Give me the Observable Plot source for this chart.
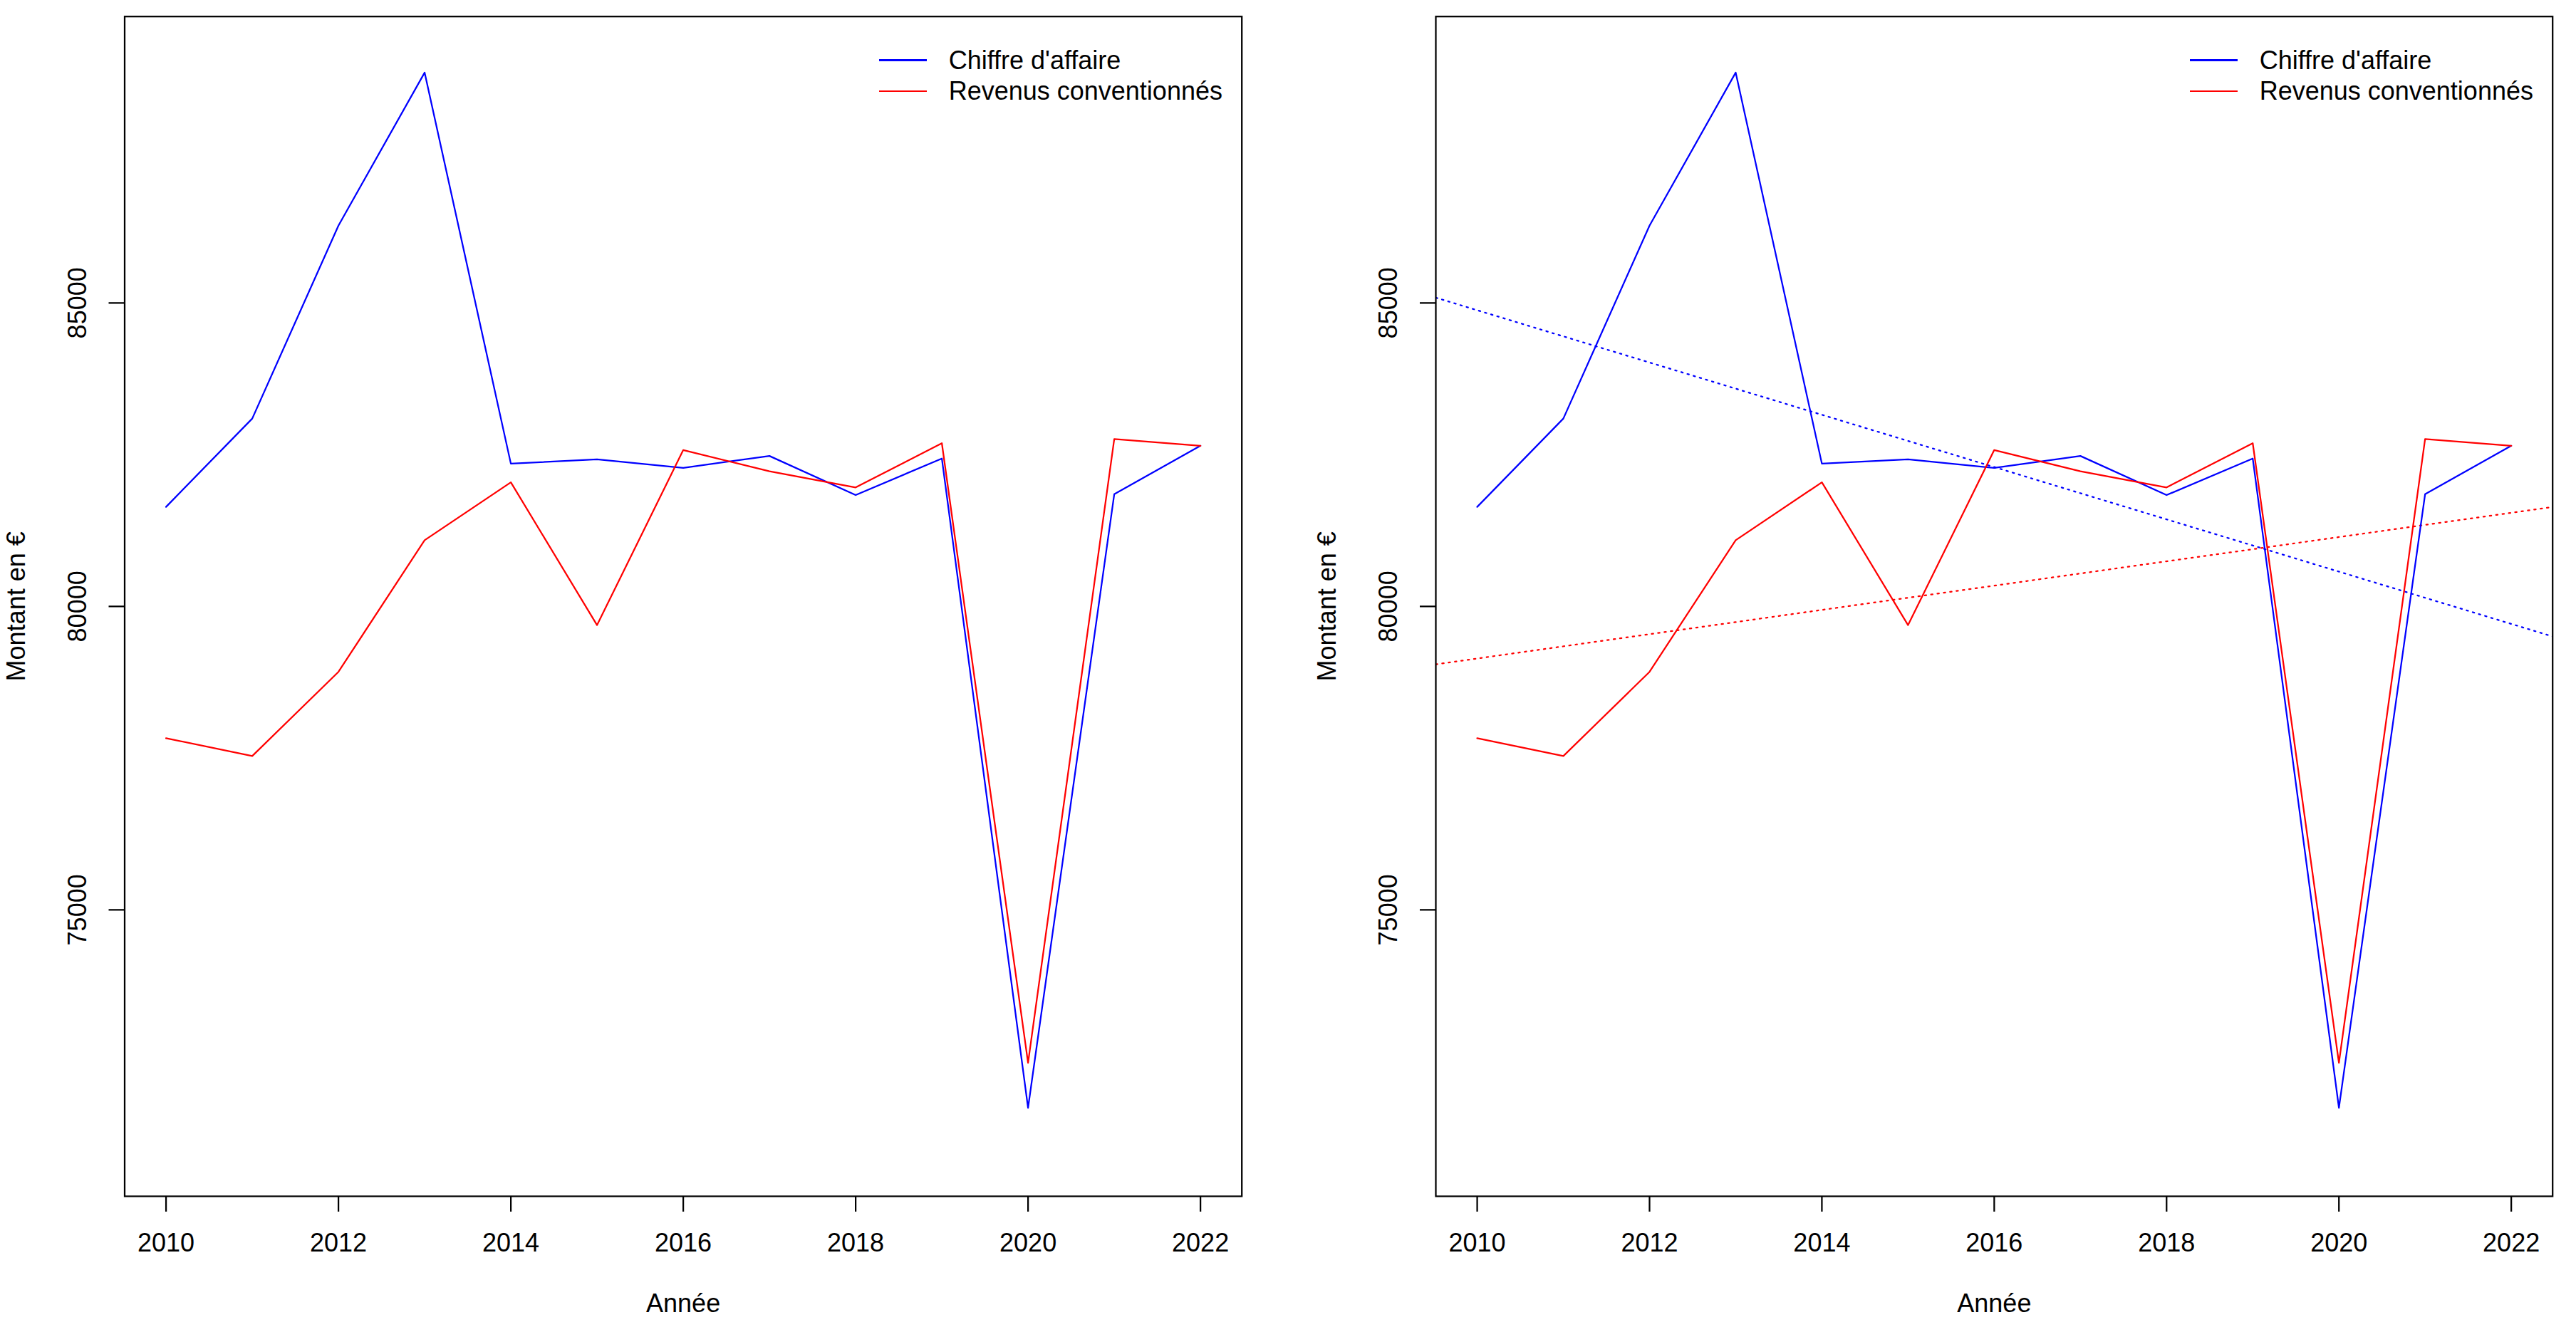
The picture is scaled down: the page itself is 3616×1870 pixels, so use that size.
<!DOCTYPE html>
<html><head><meta charset="utf-8">
<script src="https://cdn.jsdelivr.net/npm/d3@7"></script>
<script src="https://cdn.jsdelivr.net/npm/@observablehq/plot@0.6"></script>
<style>
html,body{margin:0;padding:0;background:#fff;}
#wrap{display:flex;width:3616px;height:1870px;overflow:hidden;}
.panel{position:relative;width:1808px;height:1870px;}
.panel svg{display:block;}
.legend{position:absolute;font-family:"Liberation Sans",Arial,Helvetica,sans-serif;font-size:36px;color:#000;}
.row{position:absolute;left:0;display:flex;align-items:center;white-space:nowrap;height:44px;}
.swatch{width:67px;height:2.25px;margin-right:31px;flex:none;}
</style></head><body><div id="wrap"></div>
<script>
// ---- data ----
const years = [2010, 2011, 2012, 2013, 2014, 2015, 2016, 2017, 2018, 2019, 2020, 2021, 2022];
const chiffreAffaire = [81640, 83095, 86275, 88796, 82353, 82423, 82283, 82479, 81835, 82437, 71737, 81849, 82647];
const revenusConventionnes = [77829, 77535, 78922, 81092, 82045, 79692, 82577, 82227, 81961, 82689, 72479, 82759, 82647];
const seriesNames = ["Chiffre d'affaire", "Revenus conventionnés"];
const seriesColors = ["#0000ff", "#ff0000"];
const xTicks = [2010, 2012, 2014, 2016, 2018, 2020, 2022];
const yTicks = [75000, 80000, 85000];
const yLimits = [71000, 89000];
const xLabel = "Année";
const yLabel = "Montant en €";

const FONT = '"Liberation Sans", Arial, Helvetica, sans-serif';
const LW = 2.25;

function pad(ext) { const r = ext[1] - ext[0]; return [ext[0] - 0.04 * r, ext[1] + 0.04 * r]; }
const xDomain = pad(d3.extent(years));
const yDomain = pad(yLimits);

const series = [chiffreAffaire, revenusConventionnes].map((vals, i) =>
  years.map((yr, j) => ({year: yr, value: vals[j], name: seriesNames[i], color: seriesColors[i]})));

function regression(vals) {
  const mx = d3.mean(years), my = d3.mean(vals);
  const sxy = d3.sum(years, (x, j) => (x - mx) * (vals[j] - my));
  const sxx = d3.sum(years, x => (x - mx) ** 2);
  const b = sxy / sxx, a = my - b * mx;
  return xDomain.map(x => ({year: x, value: a + b * x}));
}

function makePanel(withTrend, mLeft, mRight) {
  const W = 1808, H = 1870, mTop = 22.7, mBottom = 191;
  const marks = [];
  if (withTrend) {
    [chiffreAffaire, revenusConventionnes].forEach((vals, i) => {
      marks.push(Plot.line(regression(vals), {x: "year", y: "value", stroke: seriesColors[i],
        strokeWidth: LW, strokeDasharray: "2.25 6.75", clip: true}));
    });
  }
  series.forEach((s, i) => {
    marks.push(Plot.line(s, {x: "year", y: "value", stroke: seriesColors[i], strokeWidth: LW, clip: true}));
  });
  marks.push(
    Plot.axisX(xTicks, {tickSize: 22, tickPadding: 30, fontSize: 36, strokeWidth: LW,
      tickFormat: d => String(d), label: null}),
    Plot.axisY(yTicks, {tickSize: 22, strokeWidth: LW, tickFormat: () => "", label: null}),
    Plot.text(yTicks, {y: d => d, text: d => String(d), frameAnchor: "left", rotate: -90,
      dx: -66, fontSize: 36, textAnchor: "middle", lineAnchor: "middle", fill: "black"}),
    Plot.text([xLabel], {frameAnchor: "bottom", dy: 151, fontSize: 36, lineAnchor: "middle", fill: "black"}),
    Plot.text([yLabel], {frameAnchor: "left", dx: -152, rotate: -90, fontSize: 36,
      textAnchor: "middle", lineAnchor: "middle", fill: "black"}),
    Plot.frame({stroke: "black", strokeWidth: LW})
  );
  const svg = Plot.plot({
    width: W, height: H,
    marginLeft: mLeft, marginRight: mRight, marginTop: mTop, marginBottom: mBottom,
    x: {domain: xDomain}, y: {domain: yDomain},
    style: {fontFamily: FONT, fontSize: "36px", background: "white", color: "black", overflow: "visible"},
    marks
  });
  const div = document.createElement("div");
  div.className = "panel";
  div.appendChild(svg);
  const boxRight = W - mRight;
  const leg = document.createElement("div");
  leg.className = "legend";
  leg.style.left = (boxRight - 509) + "px";
  leg.style.top = "0px";
  seriesNames.forEach((n, i) => {
    const row = document.createElement("div");
    row.className = "row";
    row.style.top = (62.5 + i * 43.2) + "px";
    const sw = document.createElement("span");
    sw.className = "swatch";
    sw.style.background = seriesColors[i];
    const tx = document.createElement("span");
    tx.textContent = n;
    row.appendChild(sw); row.appendChild(tx);
    leg.appendChild(row);
  });
  div.appendChild(leg);
  return div;
}

const wrap = document.getElementById("wrap");
wrap.appendChild(makePanel(false, 174.5, 65.3));
wrap.appendChild(makePanel(true, 207, 33.3));
</script></body></html>
